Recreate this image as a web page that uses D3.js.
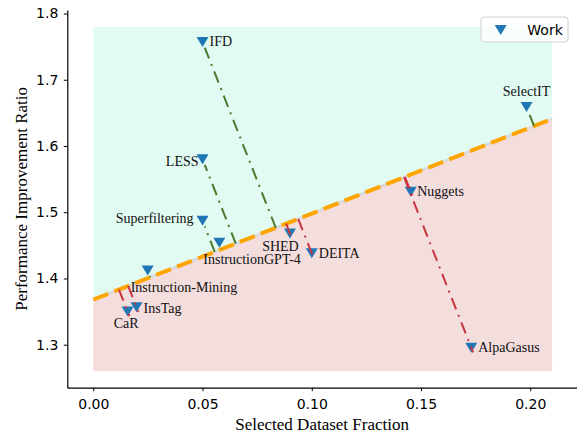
<!DOCTYPE html>
<html>
<head>
<meta charset="utf-8">
<script src="https://cdn.jsdelivr.net/npm/d3@7"></script>
<style>
  body { margin: 0; background: #fff; }
  svg { display: block; }
</style>
</head>
<body>
<svg id="chart" width="577" height="434"></svg>
<script>
// Works and their (fraction, ratio) positions
const works = ["IFD", "LESS", "Superfiltering", "InstructionGPT-4", "Instruction-Mining",
  "CaR", "InsTag", "SHED", "DEITA", "AlpaGasus", "Nuggets", "SelectIT"];
const fractions = [0.05, 0.05, 0.05, 0.0577, 0.0249, 0.0157, 0.0198, 0.09, 0.10, 0.173, 0.1453, 0.1983];
const ratios = [1.757, 1.580, 1.487, 1.454, 1.412, 1.350, 1.3565, 1.468, 1.438, 1.2955, 1.531, 1.659];

// trend line and shaded region
const trendIntercept = 1.368;
const trendSlope = 1.30;
const regionX = [0, 0.21];
const regionY = [1.26, 1.78];

const xTicks = [0, 0.05, 0.10, 0.15, 0.20];
const yTicks = [1.3, 1.4, 1.5, 1.6, 1.7, 1.8];
const legendLabels = ["Work"];

// label placement (offset from the marker, anchor)
const labelPlace = {
  "IFD": [7, 0, "start"],
  "LESS": [-4, 2, "end"],
  "Superfiltering": [-9, -2, "end"],
  "InstructionGPT-4": [-16, 17, "start"],
  "Instruction-Mining": [-17, 17, "start"],
  "CaR": [-1.5, 12, "middle"],
  "InsTag": [7, 1, "start"],
  "SHED": [-9.5, 13.5, "middle"],
  "DEITA": [7, 0, "start"],
  "AlpaGasus": [7, 0, "start"],
  "Nuggets": [6.5, 0, "start"],
  "SelectIT": [0, -15, "middle"]
};

const trend = (v) => trendIntercept + trendSlope * v;

const svg = d3.select("#chart");

const x = d3.scaleLinear().domain([-0.0119, 0.2214]).range([67.3, 577]);
const y = d3.scaleLinear().domain([1.2351, 1.8053]).range([387.7, 10]);

const data = works.map((w, i) => ({ name: w, fx: fractions[i], ry: ratios[i] }));

// shaded regions above / below the trend line
svg.append("path")
  .datum(regionX)
  .attr("d", d3.area().x((d) => x(d)).y0((d) => y(trend(d))).y1(y(regionY[1])))
  .attr("fill", "#e1fbf2");

svg.append("path")
  .datum(regionX)
  .attr("d", d3.area().x((d) => x(d)).y0(y(regionY[0])).y1((d) => y(trend(d))))
  .attr("fill", "#f4dddd");

// axes
const xAxis = svg.append("g")
  .attr("transform", `translate(0, ${y.range()[0]})`)
  .call(d3.axisBottom(x).tickValues(xTicks).tickFormat(d3.format(".2f"))
    .tickSize(3.5).tickSizeOuter(0).tickPadding(7.5));

const yAxis = svg.append("g")
  .attr("transform", `translate(${x.range()[0]}, 0)`)
  .call(d3.axisLeft(y).tickValues(yTicks).tickFormat(d3.format(".1f"))
    .tickSize(3.5).tickSizeOuter(0).tickPadding(5.5));

[xAxis, yAxis].forEach((g) => {
  g.selectAll("text").attr("font-family", "DejaVu Sans").attr("font-size", 14).attr("fill", "#000");
  g.selectAll("line").attr("stroke", "#000").attr("stroke-width", 1);
  g.select(".domain").attr("stroke", "#000").attr("stroke-width", 1.2);
});

// trend line
const trendLine = d3.line().x((d) => x(d)).y((d) => y(trend(d)));
svg.append("path")
  .datum(regionX)
  .attr("d", trendLine)
  .attr("fill", "none")
  .attr("stroke", "#d9d9d9")
  .attr("stroke-width", 2.5);

svg.append("path")
  .datum(regionX)
  .attr("d", trendLine)
  .attr("fill", "none")
  .attr("stroke", "#ffa500")
  .attr("stroke-width", 4)
  .attr("stroke-dasharray", "16,6.5");

// markers
const tri = "M-6,-5L6,-5L0,5Z";
svg.selectAll(".pt")
  .data(data)
  .enter()
  .append("path")
  .attr("class", "pt")
  .attr("d", tri)
  .attr("transform", (d) => `translate(${x(d.fx)}, ${y(d.ry)})`)
  .attr("fill", "#1f77b4");

// perpendicular distance lines (in screen space)
const ax = x(regionX[0]), ay = y(trend(regionX[0]));
const bx = x(regionX[1]), by = y(trend(regionX[1]));
const ddx = bx - ax, ddy = by - ay, dd = ddx * ddx + ddy * ddy;

data.forEach((d) => {
  const px = x(d.fx), py = y(d.ry);
  const t = ((px - ax) * ddx + (py - ay) * ddy) / dd;
  const fx = ax + t * ddx, fy = ay + t * ddy;
  const len = Math.hypot(fx - px, fy - py);
  const ux = (fx - px) / len, uy = (fy - py) / len;
  const above = d.ry > trend(d.fx);
  // start near the marker tip
  const sx = above ? px + ux * 6 : px - ux * 5;
  const sy = above ? py + uy * 6 : py - uy * 5;
  svg.append("line")
    .attr("x1", fx).attr("y1", fy)
    .attr("x2", sx).attr("y2", sy)
    .attr("stroke", above ? "#4b7a2f" : "#c8343f")
    .attr("stroke-width", 2)
    .attr("stroke-dasharray", "12,6,2,6");
});

// labels
svg.selectAll(".lbl")
  .data(data)
  .enter()
  .append("text")
  .attr("class", "lbl")
  .attr("x", (d) => x(d.fx) + labelPlace[d.name][0])
  .attr("y", (d) => y(d.ry) + labelPlace[d.name][1])
  .attr("text-anchor", (d) => labelPlace[d.name][2])
  .attr("dominant-baseline", "central")
  .attr("font-family", "Liberation Serif")
  .attr("font-size", 14)
  .attr("fill", "#111")
  .text((d) => d.name);

// axis titles
svg.append("text")
  .attr("x", (x.range()[0] + x.range()[1]) / 2)
  .attr("y", 430)
  .attr("text-anchor", "middle")
  .attr("font-family", "Liberation Serif")
  .attr("font-size", 17)
  .text("Selected Dataset Fraction");

svg.append("text")
  .attr("transform", `translate(26.5, ${(y.range()[0] + y.range()[1]) / 2}) rotate(-90)`)
  .attr("text-anchor", "middle")
  .attr("font-family", "Liberation Serif")
  .attr("font-size", 17)
  .text("Performance Improvement Ratio");

// legend
const legend = svg.append("g").attr("transform", "translate(481, 17)");
legend.append("rect")
  .attr("width", 87).attr("height", 25).attr("rx", 3)
  .attr("fill", "#fff").attr("fill-opacity", 0.8)
  .attr("stroke", "#d0d0d0");
legend.selectAll(".lg")
  .data(legendLabels)
  .enter()
  .append("g")
  .each(function (lab) {
    const g = d3.select(this);
    g.append("path").attr("d", tri).attr("transform", "translate(19.7, 13)").attr("fill", "#1f77b4");
    g.append("text")
      .attr("x", 46.3).attr("y", 12.5)
      .attr("dominant-baseline", "central")
      .attr("font-family", "DejaVu Sans")
      .attr("font-size", 14)
      .text(lab);
  });
</script>
</body>
</html>
